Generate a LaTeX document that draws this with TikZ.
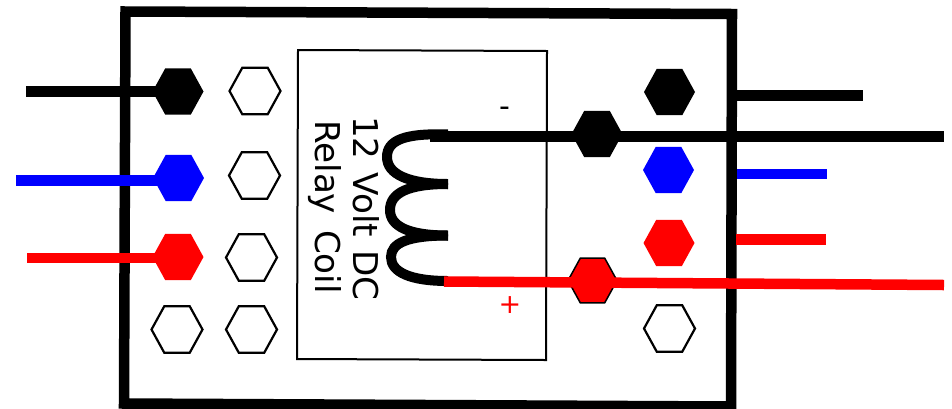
\documentclass[tikz,border=0pt]{standalone}
\usepackage{fontspec}
\setmainfont{DejaVu Sans}
\usetikzlibrary{shapes.geometric}
\tikzset{
  hexbase/.style={regular polygon,regular polygon sides=6,minimum size=51pt,inner sep=0pt,outer sep=0pt,yscale=1.05,transform shape,line join=miter},
  hexempty/.style={hexbase,draw=black,fill=white,line width=2.2pt},
  hexblack/.style={hexbase,fill=black},
  hexblue/.style={hexbase,fill=blue},
  hexred/.style={hexbase,fill=red},
  hexredo/.style={hexbase,fill=red,draw=black,line width=1.5pt,minimum size=49pt},
  wireblack/.style={draw=black,line width=10.5pt},
  wireblue/.style={draw=blue,line width=10.5pt},
  wirered/.style={draw=red,line width=10.5pt},
  frameline/.style={draw=black,line width=10.5pt,line join=miter},
  boxline/.style={draw=black,line width=2pt,line join=miter},
  coil/.style={draw=black,line width=10pt},
  coiltext/.style={rotate=-90,anchor=base west,inner sep=0pt,font=\fontsize{34.2pt}{36pt}\selectfont},
  marktext/.style={inner sep=0pt,font=\fontsize{30pt}{32pt}\selectfont},
  plustext/.style={inner sep=0pt,text=red,font=\fontsize{27pt}{29pt}\selectfont}
}
\begin{document}
\begin{tikzpicture}[x=1pt,y=-1pt]
\useasboundingbox (0,0) rectangle (952,408);
\fill[white] (0,0) rectangle (952,408);
% frame and coil box
\draw[frameline] (125.5,11.5) -- (732,14) -- (731,406.5) -- (124,403.5) -- cycle;
\draw[boxline] (298,50) -- (547,51) -- (546,360) -- (297,359) -- cycle;
% hexagons
\node[hexblack] (L1) at (178,91.5) {};
\node[hexblue]  (L2) at (178.5,178) {};
\node[hexred]   (L3) at (178,257) {};
\node[hexempty] (L4) at (177,329.5) {};
\node[hexempty] (M1) at (255,91) {};
\node[hexempty] (M2) at (254.5,175.5) {};
\node[hexempty] (M3) at (251.5,257.5) {};
\node[hexempty] (M4) at (251.5,329.5) {};
\node[hexblack] (R1) at (669.5,92) {};
\node[hexblue]  (R2) at (668.5,170) {};
\node[hexred]   (R3) at (669,243) {};
\node[hexempty] (R4) at (669.5,328.5) {};
\node[hexblack] (C1) at (597,134) {};
\node[hexredo]  (C2) at (592.5,280.5) {};
% free ends
\coordinate (a1) at (26,91.5);
\coordinate (a1e) at (160,91.5);
\coordinate (a2) at (16,180.5);
\coordinate (a2e) at (160,180.5);
\coordinate (a3) at (27,258);
\coordinate (a3e) at (160,258);
\coordinate (b1s) at (737,95.3);
\coordinate (b1) at (863,95.3);
\coordinate (b2s) at (737,174);
\coordinate (b2) at (827,174);
\coordinate (b3s) at (736,239.5);
\coordinate (b3) at (826,239.5);
\coordinate (c1s) at (430,136.5);
\coordinate (c1) at (944,136.5);
\coordinate (c2s) at (444,281.5);
\coordinate (c2) at (944,285);
% coil
\draw[coil] (448,134.5) .. controls (405,133) and (387,140) .. (387,157) .. controls (387,174) and (408,184) .. (448,184);
\draw[coil] (448,184) .. controls (408,184) and (390,193) .. (390,210) .. controls (390,226) and (408,235.5) .. (448,235.5);
\draw[coil] (448,235.5) .. controls (408,235.5) and (391,243) .. (391,257) .. controls (391,272) and (410,281) .. (448,281);
% wires
\draw[wireblack] (a1) -- (a1e);
\draw[wireblue] (a2) -- (a2e);
\draw[wirered] (a3) -- (a3e);
\draw[wireblack] (b1s) -- (b1);
\draw[wireblue] (b2s) -- (b2);
\draw[wirered] (b3s) -- (b3);
\draw[wireblack] (c1s) -- (c1);
\draw[wirered] (c2s) -- (c2);
% labels
\node[coiltext] (t1) at (353,116) {12\hspace{2pt} Volt\hspace{2pt} DC};
\node[coiltext] (t2) at (315,120) {Relay\hspace{5pt} Coil};
\node[marktext] (minus) at (504.7,111.3) {-};
\node[plustext] (plus) at (510,305.5) {+};
\end{tikzpicture}
\end{document}
